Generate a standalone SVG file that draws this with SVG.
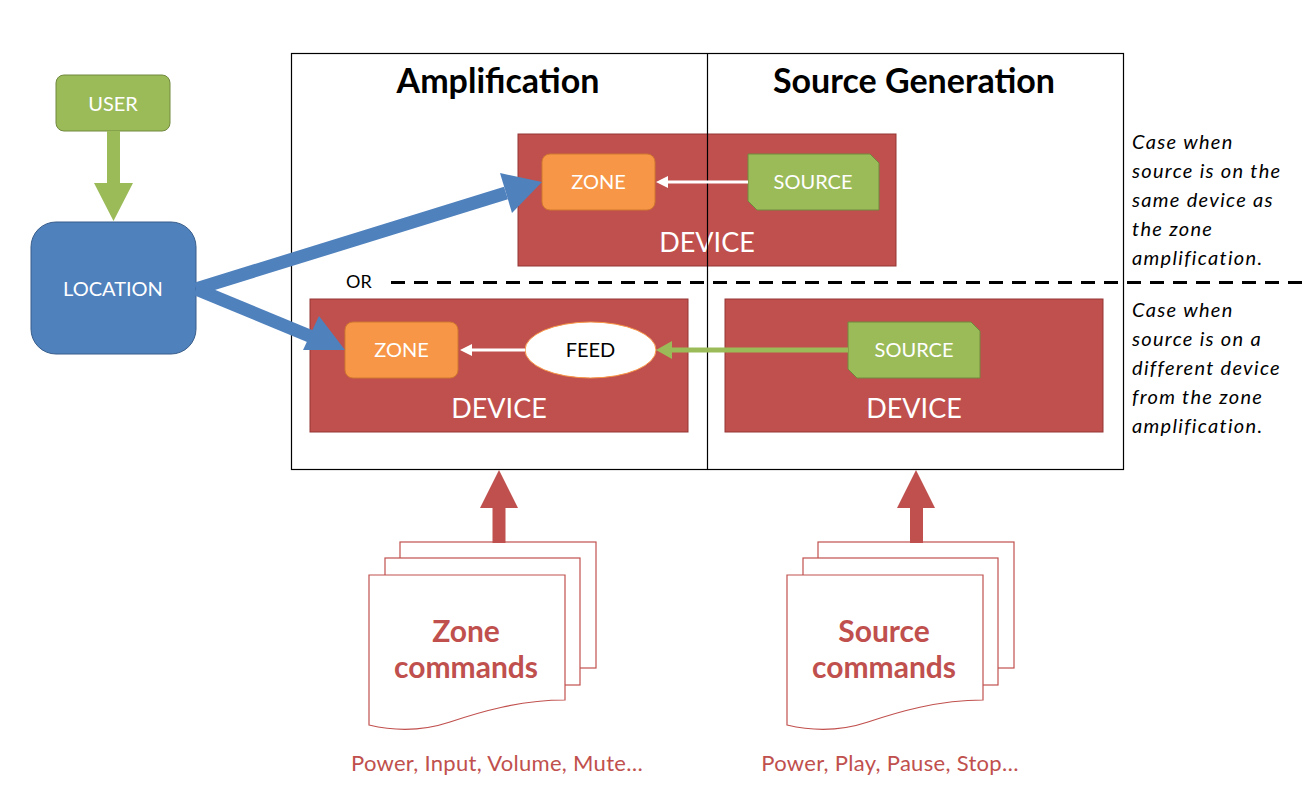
<svg xmlns="http://www.w3.org/2000/svg" width="1307" height="802" viewBox="0 0 1307 802">
<style>
.t{font-family:Lato,"Liberation Sans",sans-serif;}
.w{fill:#fff;font-size:20px;text-anchor:middle;}
.dev{fill:#C0504D;stroke:#943634;stroke-width:1;}
.devt{fill:#fff;font-size:27px;text-anchor:middle;}
.zone{fill:#F79646;stroke:#D0782F;stroke-width:1;}
.src{fill:#9BBB59;stroke:#71893F;stroke-width:1;}
.title{font-size:34px;font-weight:bold;fill:#000;text-anchor:middle;}
.note{font-size:20px;font-style:italic;fill:#000;letter-spacing:1.3px;}
.doc{fill:#fff;stroke:#C0504D;stroke-width:1.2;}
.cmd{font-size:30px;font-weight:bold;fill:#C0504D;text-anchor:middle;}
.cmdl{font-size:22px;fill:#C0504D;text-anchor:middle;letter-spacing:0.3px;}
</style>
<rect width="1307" height="802" fill="#fff"/>
<g id="frame">
<rect x="291.5" y="53.5" width="832" height="416" fill="none" stroke="#000" stroke-width="1.2"/>
<text class="t title" x="498" y="93">Amplification</text>
<text class="t title" x="914" y="93">Source Generation</text>
</g>
<g id="device-top">
<rect class="dev" x="518" y="134" width="378" height="132"/>
<text class="t devt" x="707" y="252">DEVICE</text>
</g>
<line x1="707.5" y1="53" x2="707.5" y2="469" stroke="#000" stroke-width="1.2"/>
<g id="device-bl">
<rect class="dev" x="310" y="299" width="378" height="133"/>
<text class="t devt" x="499" y="418">DEVICE</text>
</g>
<g id="device-br">
<rect class="dev" x="725" y="299" width="378" height="133"/>
<text class="t devt" x="914" y="418">DEVICE</text>
</g>
<g id="zone-top">
<rect class="zone" x="542" y="154" width="113" height="56" rx="8"/>
<text class="t w" x="598.5" y="189">ZONE</text>
</g>
<g id="source-top">
<path class="src" d="M748,154 H870 L879,163 V210 H757 L748,201 Z"/>
<text class="t w" x="813" y="189">SOURCE</text>
</g>
<g id="zone-bl">
<rect class="zone" x="345" y="322" width="113" height="56" rx="8"/>
<text class="t w" x="401.5" y="357">ZONE</text>
</g>
<g id="feed">
<ellipse cx="590.5" cy="350" rx="65.5" ry="28" fill="#fff" stroke="#F79646" stroke-width="1"/>
<text class="t" x="590.5" y="357" font-size="20" fill="#000" text-anchor="middle">FEED</text>
</g>
<g id="source-br">
<path class="src" d="M848,322 H971 L980,331 V378 H857 L848,369 Z"/>
<text class="t w" x="914" y="357">SOURCE</text>
</g>
<g id="user">
<rect class="src" x="56" y="75" width="114" height="56" rx="8"/>
<text class="t w" x="113" y="111">USER</text>
</g>
<g id="location">
<rect x="31" y="222" width="165" height="132" rx="25" fill="#4F81BD" stroke="#385D8A" stroke-width="1"/>
<text class="t w" x="113" y="296">LOCATION</text>
</g>
<g id="or-sep">
<text class="t" x="346" y="288" font-size="18" fill="#000">OR</text>
<line x1="391" y1="282.5" x2="1307" y2="282.5" stroke="#000" stroke-width="3" stroke-dasharray="14,9"/>
</g>
<g id="notes">
<text class="t note" x="1132"><tspan x="1132" y="149">Case when</tspan><tspan x="1132" y="178">source is on the</tspan><tspan x="1132" y="207">same device as</tspan><tspan x="1132" y="236">the zone</tspan><tspan x="1132" y="265">amplification.</tspan></text>
<text class="t note" x="1132"><tspan x="1132" y="317">Case when</tspan><tspan x="1132" y="346">source is on a</tspan><tspan x="1132" y="375">different device</tspan><tspan x="1132" y="404">from the zone</tspan><tspan x="1132" y="433">amplification.</tspan></text>
</g>
<g id="zone-commands">
<rect class="doc" x="400" y="542" width="196" height="126"/>
<rect class="doc" x="385" y="558" width="195" height="127"/>
<path class="doc" d="M369,575 H565 V700 C520,700 480,712 450,722 C420,732 390,730 369,725 Z"/>
<text class="t cmd" x="466" y="642">Zone</text>
<text class="t cmd" x="466" y="678">commands</text>
<text class="t cmdl" x="497" y="771">Power, Input, Volume, Mute…</text>
</g>
<g id="source-commands">
<rect class="doc" x="818" y="542" width="196" height="126"/>
<rect class="doc" x="803" y="558" width="195" height="127"/>
<path class="doc" d="M787,575 H983 V700 C938,700 898,712 868,722 C838,732 808,730 787,725 Z"/>
<text class="t cmd" x="884" y="642">Source</text>
<text class="t cmd" x="884" y="678">commands</text>
<text class="t cmdl" x="890" y="771">Power, Play, Pause, Stop…</text>
</g>
<g id="connectors">
<path d="M107,131 H120 V183 H133 L113.5,221 L94,183 H107 Z" fill="#9BBB59"/>
<line x1="196" y1="289" x2="506" y2="193" stroke="#4F81BD" stroke-width="13"/>
<polygon points="542,182 500,173 512,213" fill="#4F81BD"/>
<line x1="196" y1="289" x2="312" y2="337" stroke="#4F81BD" stroke-width="13"/>
<polygon points="345,350 303,350 319,316" fill="#4F81BD"/>
<line x1="748" y1="182" x2="664" y2="182" stroke="#fff" stroke-width="3"/>
<polygon points="656,182 668,176 668,188" fill="#fff"/>
<line x1="525" y1="350" x2="468" y2="350" stroke="#fff" stroke-width="3"/>
<polygon points="460,350 472,344 472,356" fill="#fff"/>
<line x1="848" y1="350" x2="668" y2="350" stroke="#9BBB59" stroke-width="5"/>
<polygon points="656,350 672,341 672,359" fill="#9BBB59"/>
<path d="M492.5,543 V508 H480 L499,470 L518,508 H505.5 V543 Z" fill="#C0504D"/>
<path d="M910,543 V508 H897 L916,470 L935,508 H923 V543 Z" fill="#C0504D"/>
</g>
</svg>
